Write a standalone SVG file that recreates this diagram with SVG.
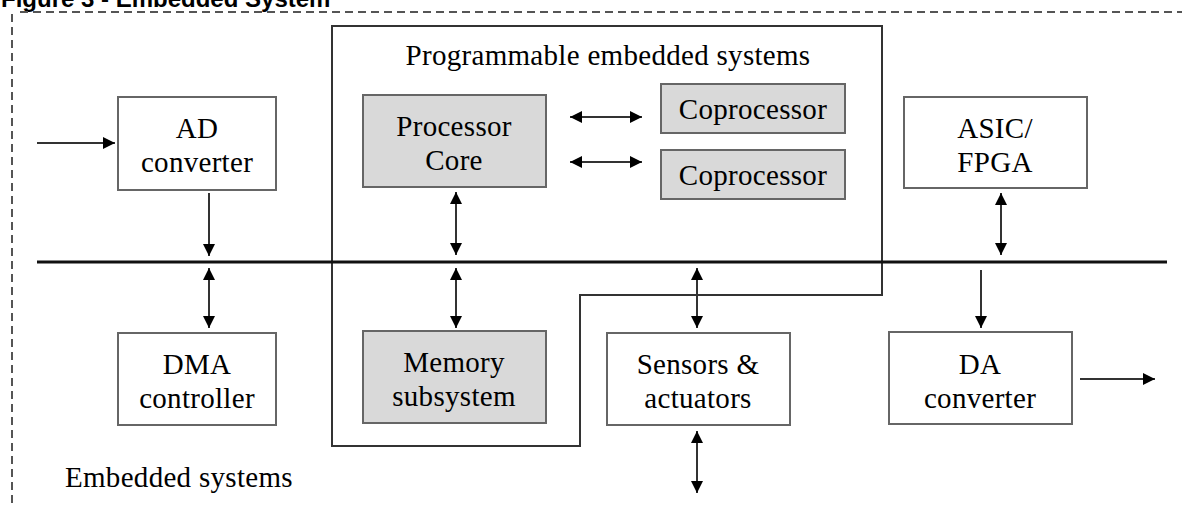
<svg xmlns="http://www.w3.org/2000/svg" width="1182" height="506" viewBox="0 0 1182 506">
<style>
.box{fill:#fff;stroke:#666;stroke-width:2}
.gbox{fill:#d9d9d9;stroke:#666;stroke-width:2}
.t{font-family:"Liberation Serif","Times New Roman",serif;font-size:29px;letter-spacing:0.3px;fill:#000;text-anchor:middle}
.c{stroke:#333;stroke-width:2;fill:none}
</style>
<defs>
<marker id="ah" viewBox="0 0 10 10" refX="10" refY="5" markerWidth="6" markerHeight="6" orient="auto-start-reverse" markerUnits="strokeWidth">
<path d="M0,0 L10,5 L0,10 z" fill="#000"/>
</marker>
</defs>
<rect width="1182" height="506" fill="#fff"/>
<text x="1" y="7" font-family="Liberation Sans,Arial,sans-serif" font-weight="bold" font-size="24" fill="#000">Figure 3 - Embedded System</text>
<path d="M12,14 V506 M20,12 H1182" stroke="#555" stroke-width="2" stroke-dasharray="8,5" fill="none"/>
<g id="programmable">
<path d="M332,26 H882 V295 H580 V446 H332 Z" fill="none" stroke="#333" stroke-width="2"/>
<text class="t" x="608" y="65">Programmable embedded systems</text>
</g>
<g id="bus"><line x1="37" y1="262" x2="1167" y2="262" stroke="#111" stroke-width="3"/></g>
<g id="ad"><rect class="box" x="118" y="97" width="158" height="93"/><text class="t" x="197" y="138">AD</text><text class="t" x="197" y="172">converter</text></g>
<g id="dma"><rect class="box" x="118" y="333" width="158" height="92"/><text class="t" x="197" y="374">DMA</text><text class="t" x="197" y="408">controller</text></g>
<g id="proc"><rect class="gbox" x="363" y="95" width="183" height="92"/><text class="t" x="454" y="136">Processor</text><text class="t" x="454" y="170">Core</text></g>
<g id="cop1"><rect class="gbox" x="661" y="84" width="184" height="49"/><text class="t" x="753" y="119">Coprocessor</text></g>
<g id="cop2"><rect class="gbox" x="661" y="150" width="184" height="49"/><text class="t" x="753" y="185">Coprocessor</text></g>
<g id="mem"><rect class="gbox" x="363" y="331" width="183" height="92"/><text class="t" x="454" y="372">Memory</text><text class="t" x="454" y="406">subsystem</text></g>
<g id="sens"><rect class="box" x="607" y="333" width="183" height="92"/><text class="t" x="698" y="374">Sensors &amp;</text><text class="t" x="698" y="408">actuators</text></g>
<g id="asic"><rect class="box" x="904" y="97" width="183" height="91"/><text class="t" x="995" y="138">ASIC/</text><text class="t" x="995" y="172">FPGA</text></g>
<g id="da"><rect class="box" x="889" y="332" width="183" height="92"/><text class="t" x="980" y="374">DA</text><text class="t" x="980" y="408">converter</text></g>
<g id="label"><text x="65" y="487" font-family="Liberation Serif,serif" font-size="29" letter-spacing="0.3" fill="#000">Embedded systems</text></g>
<g id="connectors">
<line class="c" x1="37" y1="143" x2="115" y2="143" marker-end="url(#ah)"/>
<line class="c" x1="209" y1="193" x2="209" y2="256" marker-end="url(#ah)"/>
<line class="c" x1="209" y1="268" x2="209" y2="328" marker-start="url(#ah)" marker-end="url(#ah)"/>
<line class="c" x1="570" y1="117" x2="642" y2="117" marker-start="url(#ah)" marker-end="url(#ah)"/>
<line class="c" x1="570" y1="162" x2="642" y2="162" marker-start="url(#ah)" marker-end="url(#ah)"/>
<line class="c" x1="456" y1="192" x2="456" y2="255" marker-start="url(#ah)" marker-end="url(#ah)"/>
<line class="c" x1="456" y1="268" x2="456" y2="328" marker-start="url(#ah)" marker-end="url(#ah)"/>
<line class="c" x1="697" y1="268" x2="697" y2="328" marker-start="url(#ah)" marker-end="url(#ah)"/>
<line class="c" x1="697" y1="431" x2="697" y2="493" marker-start="url(#ah)" marker-end="url(#ah)"/>
<line class="c" x1="1001" y1="193" x2="1001" y2="255" marker-start="url(#ah)" marker-end="url(#ah)"/>
<line class="c" x1="981" y1="270" x2="981" y2="328" marker-end="url(#ah)"/>
<line class="c" x1="1080" y1="379" x2="1155" y2="379" marker-end="url(#ah)"/>
</g>
</svg>
